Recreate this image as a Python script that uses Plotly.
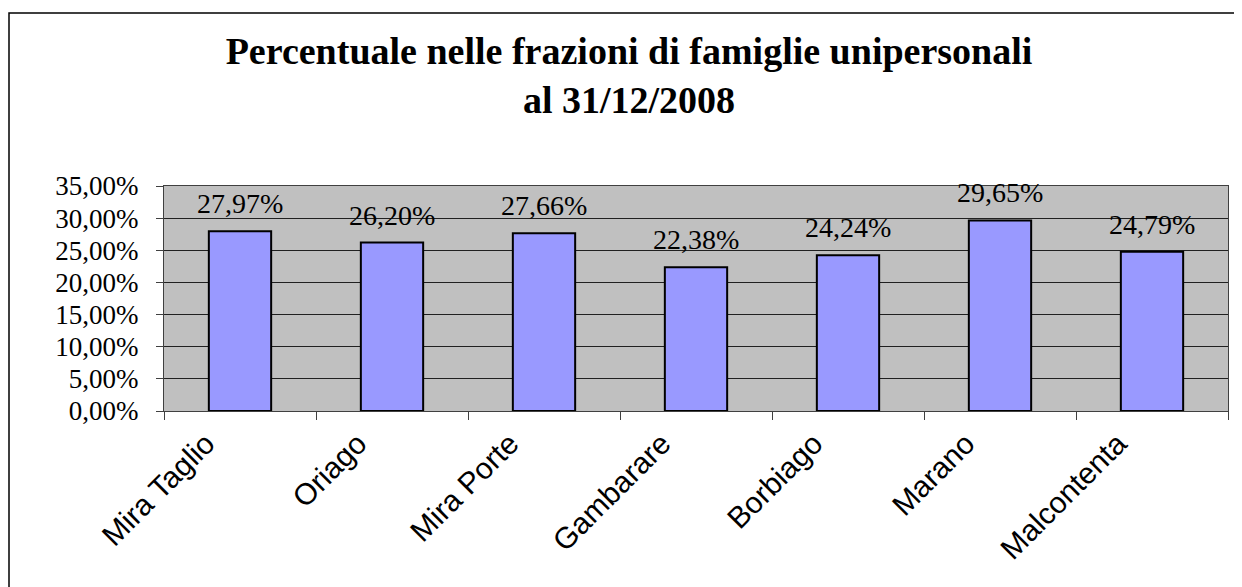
import plotly.graph_objects as go

categories = ["Mira Taglio", "Oriago", "Mira Porte", "Gambarare", "Borbiago", "Marano", "Malcontenta"]
values = [27.97, 26.20, 27.66, 22.38, 24.24, 29.65, 24.79]
y_ticks = [0, 5, 10, 15, 20, 25, 30, 35]
y_tick_text = [f"{v:.2f}".replace(".", ",") + "%" for v in y_ticks]

OFF = 8  # page body margin
W, H = 1242 - OFF, 587 - OFF
# target pixel positions (in screenshot coordinates)
PL, PR, PT, PB = 164, 1228, 186, 411
L, R, T, B = PL - OFF, (W + OFF) - PR, PT - OFF, (H + OFF) - PB
pw, ph = W - L - R, H - T - B

def px_x(px):
    return (px - PL) / pw

def px_y(py):
    return (PB - py) / ph

labels = [f"{v:.2f}".replace(".", ",") + "%" for v in values]

fig = go.Figure()
fig.add_trace(go.Bar(
    x=categories, y=values,
    marker=dict(color="#9999FF", line=dict(color="#000000", width=2)),
    hoverinfo="skip",
))

for c, v, t in zip(categories, values, labels):
    fig.add_annotation(x=c, y=v, text=t, showarrow=False, yanchor="bottom",
                       yshift=10, font=dict(family="Liberation Serif", size=28, color="#000000"))

fig.add_shape(type="rect", xref="paper", yref="paper",
              x0=px_x(9), x1=px_x(1260), y0=px_y(600), y1=px_y(13),
              line=dict(color="#000000", width=1.5), fillcolor="rgba(0,0,0,0)", layer="below")

fig.update_layout(
    width=W, height=H,
    margin=dict(l=L, r=R, t=T, b=B, autoexpand=False),
    paper_bgcolor="#FFFFFF", plot_bgcolor="#C0C0C0",
    bargap=0.59,
    showlegend=False,
    title=dict(text="Percentuale nelle frazioni di famiglie unipersonali<br>al 31/12/2008",
               x=(629 - OFF) / W, xanchor="center", xref="container",
               y=1 - (64 - OFF) / H, yanchor="middle",
               font=dict(family="Liberation Serif", size=38, color="#000000", weight="bold")),
    xaxis=dict(type="category", tickson="boundaries", ticks="outside", ticklen=8,
               tickcolor="#404040", tickangle=-45, showline=True, linecolor="#404040",
               mirror=True, showgrid=False, ticklabelshift=-34, ticklabelstandoff=2,
               tickfont=dict(family="Liberation Sans", size=30, color="#000000")),
    yaxis=dict(range=[0, 35], tickvals=y_ticks, ticktext=y_tick_text,
               ticks="outside", ticklen=7, tickcolor="#404040",
               showline=True, linecolor="#404040", mirror=True, ticklabelstandoff=12,
               showgrid=True, gridcolor="#202020", gridwidth=1, zeroline=False,
               tickfont=dict(family="Liberation Serif", size=27, color="#000000")),
)

fig.write_html("out.html")
